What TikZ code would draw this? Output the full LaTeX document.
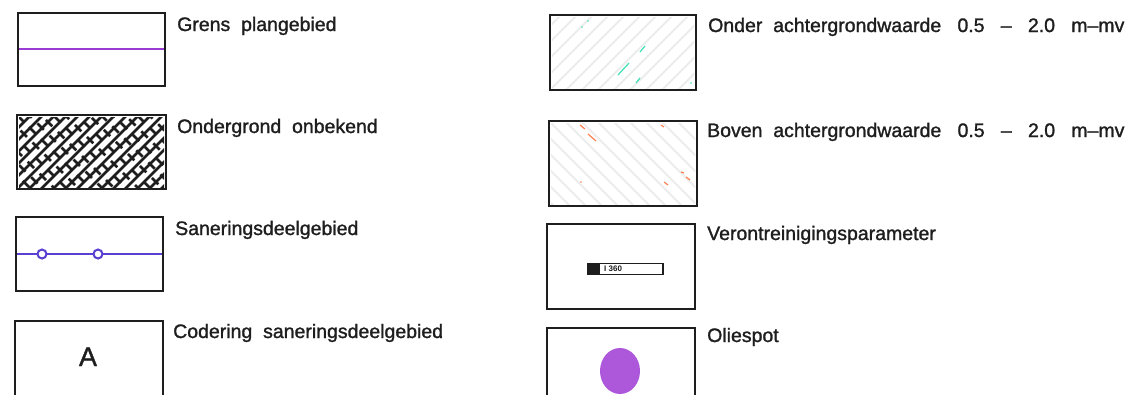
\documentclass[tikz,border=0pt]{standalone}
\usepackage{fontspec}
\usetikzlibrary{shapes.geometric}
\setmainfont{Liberation Sans}
\newfontfamily\lblfont{Liberation Sans}[FakeBold=1.3]
\definecolor{grenscol}{HTML}{9B3BD6}
\definecolor{sancol}{HTML}{5B3FD0}
\definecolor{oliecol}{HTML}{AD58DB}
\definecolor{faint}{HTML}{EDEDED}
\definecolor{greenh}{HTML}{3FE0B5}
\definecolor{orangeh}{HTML}{FF7F50}
\definecolor{ink}{HTML}{1E1E1E}
\tikzset{
  box/.style={draw=ink, line width=2.6pt, rectangle, inner sep=0pt},
  lbl/.style={anchor=base west, inner sep=0pt, font=\lblfont\fontsize{19.5}{22}\selectfont, text=ink},
}
\begin{document}
\begin{tikzpicture}[x=1pt,y=-1pt]
\useasboundingbox (0,0) rectangle (1138,394);
\fill[white] (0,0) rectangle (1138,394);
\clip (0,0) rectangle (1138,394);
% boxes
\node[box, minimum width=147pt, minimum height=73pt] (b1) at (91.5,49.5) {};
\node[box, minimum width=149pt, minimum height=74pt] (b2) at (91.5,152) {};
\node[box, minimum width=147pt, minimum height=74pt] (b3) at (89.5,254) {};
\node[box, minimum width=148pt, minimum height=80pt] (b4) at (89,361) {};
\node[box, minimum width=146pt, minimum height=75pt] (b5) at (623,52.5) {};
\node[box, minimum width=148pt, minimum height=85pt] (b6) at (623,163.5) {};
\node[box, minimum width=148pt, minimum height=85pt] (b7) at (621,266.5) {};
\node[box, minimum width=148pt, minimum height=80pt] (b8) at (621,368) {};
% 1 grens plangebied
\coordinate (g1) at (19,48.5);
\coordinate (g2) at (164,48.5);
\draw[grenscol, line width=2pt] (g1) -- (g2);
% 2 ondergrond onbekend hatch
\begin{scope}
\clip (19,117) rectangle (164,187);
\foreach \k in {-8,...,14}{
  \draw[ink, line width=2.5pt] (17+\k*12,189) -- ++(76,-76);
  \draw[ink, line width=2.5pt, dash pattern=on 9pt off 8pt, dash phase=\k*5pt] (17+\k*12,115) -- ++(76,76);
}
\end{scope}
% 3 saneringsdeelgebied
\coordinate (s1) at (17,254);
\coordinate (s2) at (162,254);
\draw[sancol, line width=2pt] (s1) -- (s2);
\node[circle, draw=sancol, fill=white, line width=2pt, minimum size=9pt, inner sep=0pt] (c1) at (42,254) {};
\node[circle, draw=sancol, fill=white, line width=2pt, minimum size=9pt, inner sep=0pt] (c2) at (98,254) {};
% 4 codering
\node[font=\lblfont\fontsize{27}{30}\selectfont, text=ink, inner sep=0pt, anchor=base] (A) at (88,366) {A};
% 5 onder achtergrond
\begin{scope}
\clip (552,17) rectangle (694,88);
\foreach \k in {-6,...,14}{
  \draw[faint, line width=2pt] (550+\k*16,90) -- ++(75,-75);
}
\end{scope}
\draw[greenh, line width=1.2pt] (645,46) -- (640,52);
\draw[greenh, line width=1.2pt] (629,63) -- (618,75);
\draw[greenh, line width=1.2pt] (640,78) -- (636,83);
\fill[greenh] (588,21) circle (0.8pt) (582,27) circle (0.8pt) (691,83) circle (0.8pt);
% 6 boven achtergrond
\begin{scope}
\clip (551,123) rectangle (695,204);
\foreach \k in {-8,...,14}{
  \draw[faint, line width=2pt] (549+\k*16,121) -- ++(85,85);
}
\end{scope}
\draw[orangeh, line width=1.2pt] (580,125) -- (585,129);
\draw[orangeh, line width=1.2pt] (588,134) -- (596,141);
\draw[orangeh, line width=1.2pt] (661,125) -- (664,127);
\draw[orangeh, line width=1.2pt] (681,172) -- (684,173);
\draw[orangeh, line width=1.2pt] (686,177) -- (690,180);
\draw[orangeh, line width=1.2pt] (664,182) -- (668,185);
\fill[orangeh] (581,182) circle (0.8pt);
% 7 verontreinigingsparameter
\node[draw=ink, line width=1.5pt, minimum width=75pt, minimum height=11pt, inner sep=0pt] (vp) at (625.5,269) {};
\fill[ink] (588,263.5) rectangle (600,274.5);
\node[font=\fontsize{8}{8}\selectfont\bfseries, inner sep=0pt, anchor=west, text=ink] (vpt) at (604,269) {I 360};
% 8 oliespot
\node[ellipse, fill=oliecol, minimum width=40pt, minimum height=46pt, inner sep=0pt] (spot) at (620,371) {};
% labels
\node[lbl] (t1) at (177,31) {Grens\ \ plangebied};
\node[lbl] (t2) at (177,133) {Ondergrond\ \ onbekend};
\node[lbl] (t3) at (175,235) {Saneringsdeelgebied};
\node[lbl] (t4) at (173,338) {Codering\ \ saneringsdeelgebied};
\node[lbl] (t5) at (708,32) {Onder\ \ achtergrondwaarde\ \ \ 0.5\ \ \ –\ \ \ 2.0\ \ \ m–mv};
\node[lbl] (t6) at (707,137) {Boven\ \ achtergrondwaarde\ \ \ 0.5\ \ \ –\ \ \ 2.0\ \ \ m–mv};
\node[lbl] (t7) at (707,240) {Verontreinigingsparameter};
\node[lbl] (t8) at (707,342) {Oliespot};
\end{tikzpicture}
\end{document}
